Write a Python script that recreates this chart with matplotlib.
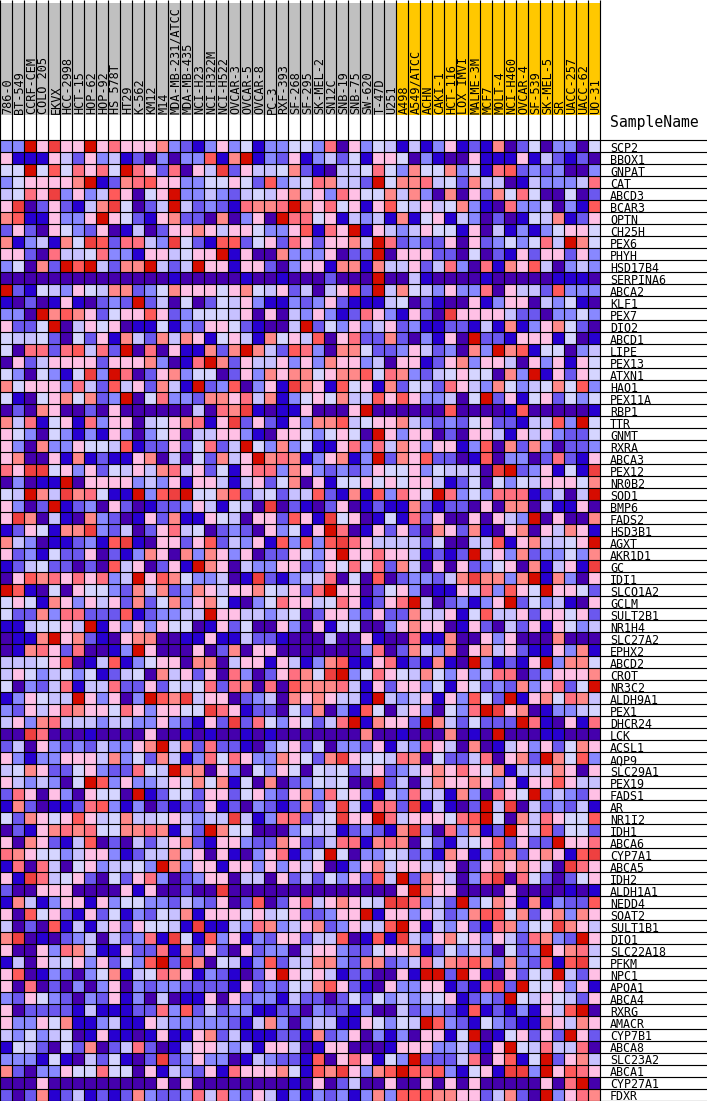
import numpy as np
import matplotlib
matplotlib.use('Agg')
import matplotlib.pyplot as plt
from matplotlib.colors import ListedColormap

samples_a = ['786-0','BT-549','CCRF-CEM','COLO 205','EKVX','HCC-2998','HCT-15','HOP-62','HOP-92','HS 578T',
             'HT29','K-562','KM12','M14','MDA-MB-231/ATCC','MDA-MB-435','NCI-H23','NCI-H322M','NCI-H522',
             'OVCAR-3','OVCAR-5','OVCAR-8','PC-3','RXF-393','SF-268','SF-295','SK-MEL-2','SN12C','SNB-19',
             'SNB-75','SW-620','T-47D','U251']
samples_b = ['A498','A549/ATCC','ACHN','CAKI-1','HCT-116','LOX IMVI','MALME-3M','MCF7','MOLT-4','NCI-H460',
             'OVCAR-4','SF-539','SK-MEL-5','SR','UACC-257','UACC-62','UO-31']
genes = ['SCP2','BBOX1','GNPAT','CAT','ABCD3','BCAR3','OPTN','CH25H','PEX6','PHYH','HSD17B4','SERPINA6','ABCA2',
         'KLF1','PEX7','DIO2','ABCD1','LIPE','PEX13','ATXN1','HAO1','PEX11A','RBP1','TTR','GNMT','RXRA','ABCA3',
         'PEX12','NR0B2','SOD1','BMP6','FADS2','HSD3B1','AGXT','AKR1D1','GC','IDI1','SLCO1A2','GCLM','SULT2B1',
         'NR1H4','SLC27A2','EPHX2','ABCD2','CROT','NR3C2','ALDH9A1','PEX1','DHCR24','LCK','ACSL1','AQP9','SLC29A1',
         'PEX19','FADS1','AR','NR1I2','IDH1','ABCA6','CYP7A1','ABCA5','IDH2','ALDH1A1','NEDD4','SOAT2','SULT1B1',
         'DIO1','SLC22A18','PFKM','NPC1','APOA1','ABCA4','RXRG','AMACR','CYP7B1','ABCA8','SLC23A2','ABCA1','CYP27A1','FDXR']

# level of each cell, 0 (lowest) to b (highest), one string per gene
rows = [
 '33b6a 66b68 66673 21363 51335 53806 35414 13612 17025 03305',
 '61116 42634 12030 33917 b1326 13425 16650 31006 11161 42120',
 '55b59 58685 b8628 064a2 64457 21044 58537 55735 18923 23003',
 '35666 67b12 78966 33556 52934 58744 2b577 84527 44014 33348',
 '4586a 36349 6056b 33432 45467 46386 55747 30706 27585 00502',
 '6a026 2147a 5024b 42321 8778b 76856 16954 64573 10833 40319',
 '79116 336b6 52167 22070 360b8 85614 34171 56143 02015 47126',
 '26206 53260 14026 67646 65336 9186b 16434 65516 04131 35665',
 '71341 75a92 8843a 52199 25628 62667 4b823 22606 23535 84b75',
 '66208 44583 31664 566b1 60073 33602 2b066 62205 02162 66263',
 '35072 b9b42 77b42 4b661 66203 66177 17446 24830 81769 40343',
 '00000 00000 00001 00000 10010 00200 0b004 10000 10000 01110',
 'b2154 36547 72357 66656 75462 40469 2b475 43633 80644 29333',
 '10201 61023 2b240 50254 63113 23621 11450 21006 13660 43510',
 '330b7 97625 66962 35554 60604 36312 86316 20a66 66422 03353',
 '6225b 04656 01151 32665 21004 b2536 34623 11221 41713 67520',
 '54452 05261 74274 76156 41756 49068 22720 3160b 22166 61501',
 '50882 89482 b0806 11727 b7429 83077 52236 42307 3b791 55034',
 '06246 66626 66730 18b72 64463 63766 34066 12673 66406 36165',
 '53053 15a3b 80267 35502 63767 75677 95873 24565 5073b 16265',
 '75666 38429 46274 1b239 0361a 76195 61725 42864 37534 57593',
 '51056 75723 b0583 32776 84713 56574 49696 33405 b2615 62535',
 '02076 00206 00000 04087 a1011 60006 b0000 00900 00190 00001',
 '74815 61836 60456 7816a 26216 37794 56674 32325 62214 493b5',
 '65305 31316 30356 04466 31066 53565 0b636 60206 64164 63225',
 '63073 36554 91226 25824 b5373 51168 38476 36613 90727 30223',
 '67006 17121 16704 05274 6b787 13671 3b276 92201 90330 28216',
 '86aa5 63625 46478 46251 68837 63232 36556 35444 0ab23 6151a',
 '03011 b0666 63436 16641 46257 06155 65656 64125 05354 66657',
 '54b74 a7851 1b39a b5579 24524 49217 19386 5b835 38881 2404b',
 '6302b 12306 20122 36415 40a02 10260 12117 21220 60770 41160',
 '6a704 10732 01627 11654 06629 61a56 01518 26006 0643b 06007',
 '12651 77a32 40268 45023 20635 16b80 16262 07627 10670 64761',
 '74301 12319 a1066 26924 36193 939a8 64444 25004 49167 4456b',
 '62315 22602 13760 73763 60226 536b6 68664 1212b 46372 33537',
 '12452 20209 46026 1b760 43366 23658 58274 06062 35607 1461a',
 '06978 68683 4b697 53340 1a213 44805 09023 3247a 7737b 17306',
 'b9105 06553 27472 37646 67546 28b66 02563 01164 83965 b6652',
 '56517 63646 27257 36751 03586 64586 1268b 40231 36b25 34106',
 '52273 88222 91233 44b66 44345 02663 26227 44615 94462 66562',
 '11455 64b16 36365 50162 50063 06155 00367 66016 20426 16534',
 '0117b 67210 67700 11611 42210 00400 61008 11700 63600 07000',
 '01786 28001 3b600 06027 06600 00000 38027 43706 74621 16371',
 '44456 90149 13566 07704 66164 13791 16812 1710b 31216 b3775',
 '46534 53512 45074 62608 30268 75ab3 58654 75363 48802 36667',
 '50324 81448 22625 45828 70809 77784 16266 35165 23273 6825b',
 '13654 4b636 03b97 a4660 23407 67644 1b434 61639 52b16 75874',
 '32646 87665 86366 55a86 12205 27031 95046 30538 ba670 13345',
 '46378 44434 43363 2162a 28536 5248b 17662 b7425 222b8 10618',
 '00a80 00100 00600 10100 10100 00000 70010 00701 0b000 11000',
 '24063 23243 367b4 72822 10346 25033 26143 86407 01463 62576',
 '63133 66647 35274 13858 63376 527a6 55487 05224 80672 b7593',
 '45762 25632 2854b 77063 05365 05452 46234 67686 57144 47606',
 '64343 05b93 63346 57571 50702 35450 0a240 47667 63616 69644',
 '28606 30655 0b125 52662 56326 73856 31438 44173 0865b 34326',
 '17201 12893 13021 22612 03212 724a4 1882a 14102 b4a04 23241',
 '52765 69645 74456 4344a 41388 245a6 6b846 66589 b5074 86559',
 '02167 87855 77871 42b75 50003 54412 3217a 30837 12b64 92552',
 '60762 14902 04246 72166 32276 22488 17870 52145 69262 2b668',
 '87655 34663 12447 46061 03681 35b50 33542 31761 38726 7619a',
 '18084 05634 453b7 36616 63636 46013 67466 44602 67676 40a86',
 '61a84 56205 26830 23660 44062 42536 294b2 76403 8a085 20256',
 '20066 60000 61600 200a0 00000 00000 0006b 76600 00600 00101',
 '17413 66163 55332 43260 29026 84676 54aa8 342b3 57617 13229',
 '60956 21625 13254 71666 56456 22366 b1663 64237 99572 67376',
 '40209 14146 26554 1a114 38734 67236 449b6 14362 18735 5a764',
 '7a010 23404 2381a 51936 13266 24490 191a4 36756 36428 732b6',
 '60063 87411 62281 72620 62330 46632 25667 12534 30523 b6784',
 '14064 56362 539b2 a7054 13924 47732 77234 84789 73732 919a5',
 '69013 20357 14587 61321 026b6 56412 20061 bb2b6 10625 4b426',
 '60802 03036 03233 22221 62325 47962 10633 66121 892b5 56361',
 '32653 20326 13040 11606 23314 22025 25343 45612 32b54 65426',
 '60222 21411 12283 92423 31122 03221 30042 33219 12131 649b0',
 '63365 71134 11643 33332 14730 34411 65354 b9321 53211 76476',
 '43534 50161 10161 16724 11122 17236 03130 6615b 01562 62b62',
 '15420 52702 48201 46643 41664 01660 00166 63342 16b54 84480',
 '33315 10425 102a2 36330 14322 19068 6153b 22248 06915 b2674',
 '72033 65585 50614 32618 66675 197a6 379b9 89315 61aa3 b6986',
 '00060 00000 00060 60000 00001 06024 00600 60606 00000 608b0',
 '20271 24121 27322 38483 26413 13231 37399 97766 24720 b3687',
]
level_colors = ['#4500ad','#2700d1','#6b58ef','#8888ff','#c7c1ff','#d5d5ff',
                '#ffc0e5','#ff8989','#ff7080','#ff5a5a','#ef4040','#d60c00']

samples = samples_a + samples_b
levels = np.array([[int(ch, 16) for ch in r.replace(' ', '')] for r in rows])
ncol = levels.shape[1]
nrow = levels.shape[0]

W, H = 707, 1101
CELL = 12.0
TOP = 140.5
MONO = 'DejaVu Sans Mono'
LW = 72.0 / 100 * 1.15

fig = plt.figure(figsize=(W / 100, H / 100), dpi=100)
ax = fig.add_axes([0, 0, 1, 1])
ax.set_xlim(0, W / CELL)
ax.set_ylim((H - TOP) / CELL, -TOP / CELL)
ax.axis('off')

ax.pcolormesh(np.arange(ncol + 1), np.arange(nrow + 1), levels,
              cmap=ListedColormap(level_colors), vmin=-0.5, vmax=11.5,
              edgecolors='none', antialiased=False, zorder=1)

# header band of sample names, two groups
head_top, head_bot = (3 - TOP) / CELL, (115 - TOP) / CELL
for i, s in enumerate(samples):
    c = '#c0c0c0' if i < len(samples_a) else '#ffc800'
    ax.bar(i, head_bot - head_top, width=1, bottom=head_top, align='edge', color=c, linewidth=0, zorder=1)
    ax.text(i + 0.66, head_bot - 1 / CELL, s, rotation=90, ha='center', va='bottom', family=MONO,
            fontsize=8.6, color='black', zorder=3)

# grid lines
ax.vlines(np.arange(ncol + 1), -TOP / CELL, nrow, color='black', lw=LW, zorder=2)
ax.hlines(np.arange(nrow + 1), 0, ncol, color='black', lw=LW, zorder=2)
ax.hlines(np.arange(nrow + 1), ncol, (W + 1) / CELL, color='black', lw=LW, zorder=4)

for j, g in enumerate(genes):
    ax.text(ncol + 0.84, j + 0.97, g, ha='left', va='baseline', family=MONO, fontsize=8.4, color='black', zorder=3)
ax.text(ncol + 0.84, (127 - TOP) / CELL, 'SampleName', ha='left', va='baseline', family=MONO, fontsize=10.6, color='black')

fig.savefig('out.png', dpi=100)
